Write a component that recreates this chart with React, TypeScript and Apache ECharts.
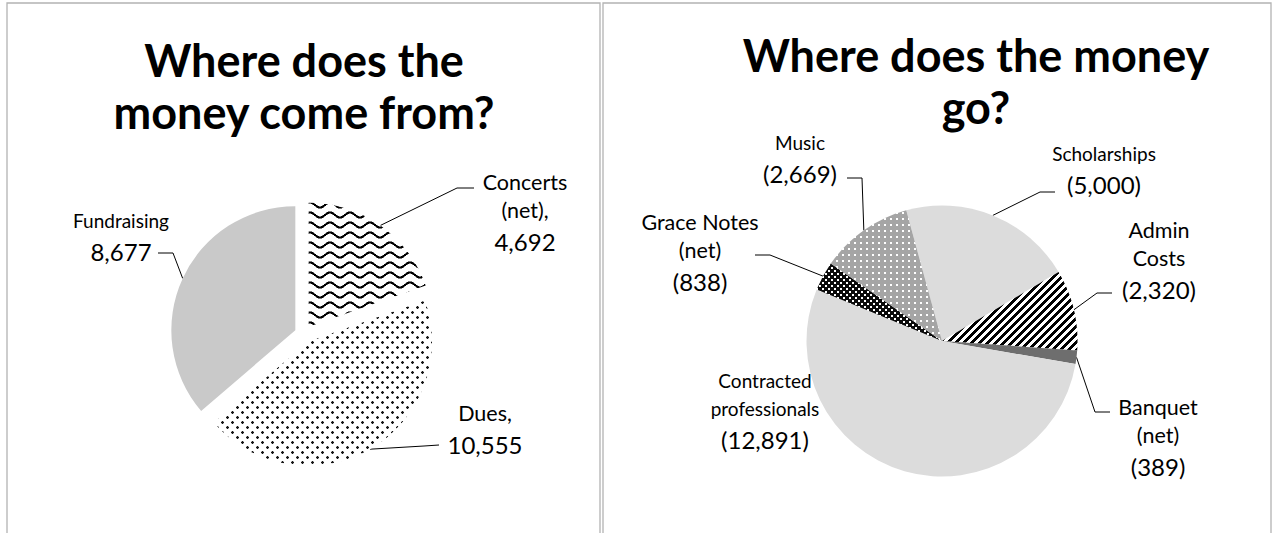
import React, { useEffect, useRef } from "react";
import * as echarts from "echarts";

// ---------- data ----------
const incomeCategories = ["Concerts (net)", "Dues", "Fundraising"];
const incomeValues = [4692, 10555, 8677];
const incomeLabelText = ["Concerts\n(net),", "Dues,", "Fundraising"];

const expenseCategories = [
  "Scholarships",
  "Admin Costs",
  "Banquet (net)",
  "Contracted professionals",
  "Grace Notes (net)",
  "Music",
];
const expenseValues = [5000, 2320, 389, 12891, 838, 2669];
const expenseLabelText = [
  "Scholarships",
  "Admin\nCosts",
  "Banquet\n(net)",
  "Contracted\nprofessionals",
  "Grace Notes\n(net)",
  "Music",
];

const titleLeft = "Where does the\nmoney come from?";
const titleRight = "Where does the money\ngo?";

// ---------- layout ----------
// label block: [center x, top y]
const incomeLabelPos = [
  [525, 168],
  [485, 399],
  [121, 206],
];
const expenseLabelPos = [
  [1104, 139],
  [1159, 216],
  [1158, 393],
  [765, 366],
  [700, 208],
  [800, 128],
];
// leader line: [anchor x, anchor y, elbow x, elbow y] (null = no leader)
const incomeLeader: (number[] | null)[] = [
  [474, 188, 457, 188],
  [439, 445, 424, 446],
  [158, 253, 173, 253],
];
const expenseLeader: (number[] | null)[] = [
  [1055, 192, 1040, 192],
  [1112, 293, 1097, 293],
  [1110, 412, 1095, 412],
  null,
  [755, 255, 770, 255],
  [847, 178, 862, 178],
];
const smallNameSet = new Set(["Fundraising", "Scholarships", "Contracted professionals", "Music"]);

const FONT = "Lato, 'Open Sans', sans-serif";
const LEFT_CENTER = [303.5, 334];
const LEFT_RADIUS = 124;
const EXPLODE = 9;

// ---------- patterns ----------
type RGB = [number, number, number];
function makePattern(w: number, h: number, fn: (x: number, y: number) => RGB) {
  const c = document.createElement("canvas");
  c.width = w;
  c.height = h;
  const ctx = c.getContext("2d")!;
  const img = ctx.createImageData(w, h);
  for (let y = 0; y < h; y++) {
    for (let x = 0; x < w; x++) {
      const [r, g, b] = fn(x, y);
      const i = (y * w + x) * 4;
      img.data[i] = r;
      img.data[i + 1] = g;
      img.data[i + 2] = b;
      img.data[i + 3] = 255;
    }
  }
  ctx.putImageData(img, 0, 0);
  return { image: c.toDataURL(), repeat: "repeat", imageWidth: w, imageHeight: h } as any;
}
const W: RGB = [255, 255, 255];
const K: RGB = [0, 0, 0];

function wavePattern() {
  const w = 20, h = 10, A = 2.6;
  return makePattern(w, h, (x, y) => {
    const px = x + 0.5, py = y + 0.5;
    const yc = h / 2 + A * Math.cos((2 * Math.PI * px) / w);
    const slope = (-A * 2 * Math.PI / w) * Math.sin((2 * Math.PI * px) / w);
    const d = Math.abs(py - yc) / Math.sqrt(1 + slope * slope);
    if (d < 0.8) return K;
    if (d < 1.25) return [120, 120, 120];
    return W;
  });
}
function dotPattern() {
  const w = 10, h = 10;
  return makePattern(w, h, (x, y) => {
    const inDot = (cx: number, cy: number) => {
      const dx = x - cx, dy = y - cy;
      if (dx >= 0 && dx < 3 && dy >= 0 && dy < 3) {
        const corner = (dx === 0 || dx === 2) && (dy === 0 || dy === 2);
        return corner ? 1 : 2;
      }
      return 0;
    };
    const v = Math.max(inDot(1, 1), inDot(6, 6));
    if (v === 2) return [20, 20, 20];
    if (v === 1) return [190, 190, 190];
    return W;
  });
}
function stripePattern() {
  const p = 8;
  return makePattern(p, p, (x, y) => (((x + y) % p) < 4 ? K : W));
}
function musicPattern() {
  return makePattern(6, 6, (x, y) => (x >= 2 && x < 4 && y >= 2 && y < 4 ? W : [165, 165, 165]));
}
function gracePattern() {
  return makePattern(6, 6, (x, y) => {
    const a = x < 2 && y < 2;
    const b = x >= 3 && x < 5 && y >= 3 && y < 5;
    return a || b ? W : [10, 10, 10];
  });
}

const fmt = (v: number) => v.toLocaleString("en-US");

const rich = {
  n: { fontFamily: FONT, fontSize: 21.5, lineHeight: 28, align: "center", color: "#000" },
  s: { fontFamily: FONT, fontSize: 19, lineHeight: 28, align: "center", color: "#000" },
  v: { fontFamily: FONT, fontSize: 24, lineHeight: 34, align: "center", color: "#000" },
};

function buildOption() {
  const incomeColors = [wavePattern(), dotPattern(), "#c9c9c9"];
  const expenseColors = ["#dcdcdc", stripePattern(), "#6e6e6e", "#dcdcdc", gracePattern(), musicPattern()];

  const labelFor = (texts: string[], cats: string[], valueFmt: (v: number) => string) =>
    (p: any) => {
      const i = p.dataIndex;
      const key = smallNameSet.has(cats[i]) ? "s" : "n";
      const lines = texts[i].split("\n").map((l) => `{${key}|${l}}`);
      return lines.join("\n") + `\n{v|${valueFmt(p.value)}}`;
    };

  const layoutFor = (pos: number[][], leaders: (number[] | null)[]) => (p: any) => {
    const i = p.dataIndex;
    const out: any = { x: pos[i][0], y: pos[i][1], align: "center", verticalAlign: "top" };
    const l = leaders[i];
    if (l && p.labelLinePoints && p.labelLinePoints.length) {
      out.labelLinePoints = [p.labelLinePoints[0], [l[2], l[3]], [l[0], l[1]]];
    }
    return out;
  };

  const labelLine = {
    show: true,
    length: 10,
    length2: 13,
    smooth: false,
    lineStyle: { color: "#000", width: 1 },
  };

  const common = {
    type: "pie",
    clockwise: true,
    avoidLabelOverlap: false,
    silent: true,
    emphasis: { disabled: true },
    labelLine,
  };

  // left pie: one series per slice so that every slice is pulled out along its own bisector
  const total = incomeValues.reduce((a, b) => a + b, 0);
  let acc = 0;
  const incomeSeries = incomeValues.map((val, k) => {
    const mid = ((acc + val / 2) / total) * 2 * Math.PI; // clockwise from 12 o'clock
    acc += val;
    const center = [LEFT_CENTER[0] + EXPLODE * Math.sin(mid), LEFT_CENTER[1] - EXPLODE * Math.cos(mid)];
    return {
      ...common,
      name: "income-" + k,
      center,
      radius: LEFT_RADIUS,
      startAngle: 90,
      label: {
        show: true,
        position: "outside",
        color: "#000",
        fontFamily: FONT,
        rich,
        formatter: labelFor(incomeLabelText, incomeCategories, fmt),
      },
      labelLayout: layoutFor(incomeLabelPos, incomeLeader),
      data: incomeCategories.map((name, i) =>
        i === k
          ? { name, value: incomeValues[i], itemStyle: { color: incomeColors[i], borderWidth: 0 } }
          : {
              name,
              value: incomeValues[i],
              itemStyle: { color: "rgba(0,0,0,0)", borderWidth: 0 },
              label: { show: false },
              labelLine: { show: false },
            }
      ),
    };
  });

  const titleStyle = { fontFamily: FONT, fontWeight: "bold", fontSize: 45, lineHeight: 52, color: "#000" };

  return {
    animation: false,
    backgroundColor: "#ffffff",
    title: [
      { text: titleLeft, left: 304, top: 34, padding: 0, textAlign: "center", textStyle: titleStyle },
      { text: titleRight, left: 976, top: 29, padding: 0, textAlign: "center", textStyle: titleStyle },
    ],
    graphic: [
      {
        type: "rect",
        silent: true,
        z: -10,
        shape: { x: 7, y: 3, width: 593, height: 620 },
        style: { fill: "none", stroke: "#b3b3b3", lineWidth: 1.3 },
      },
      {
        type: "rect",
        silent: true,
        z: -10,
        shape: { x: 603, y: 3, width: 668, height: 620 },
        style: { fill: "none", stroke: "#b3b3b3", lineWidth: 1.3 },
      },
    ],
    series: [
      ...incomeSeries,
      {
        ...common,
        name: "expenses",
        center: [942, 341],
        radius: 135.5,
        startAngle: 105.3,
        label: {
          show: true,
          position: "outside",
          color: "#000",
          fontFamily: FONT,
          rich,
          formatter: labelFor(expenseLabelText, expenseCategories, (v) => `(${fmt(v)})`),
        },
        labelLayout: layoutFor(expenseLabelPos, expenseLeader),
        data: expenseCategories.map((name, i) => ({
          name,
          value: expenseValues[i],
          itemStyle: { color: expenseColors[i], borderWidth: 0 },
          ...(expenseLeader[i] ? {} : { labelLine: { show: false } }),
        })),
      },
    ],
  };
}

export default function App() {
  const ref = useRef<HTMLDivElement>(null);
  useEffect(() => {
    if (!ref.current) return;
    const chart = echarts.init(ref.current, null, { renderer: "svg" });
    chart.setOption(buildOption() as any);
    return () => chart.dispose();
  }, []);
  return (
    <div
      ref={ref}
      style={{ position: "fixed", left: 0, top: 0, width: 1276, height: 533, background: "#fff" }}
    />
  );
}
